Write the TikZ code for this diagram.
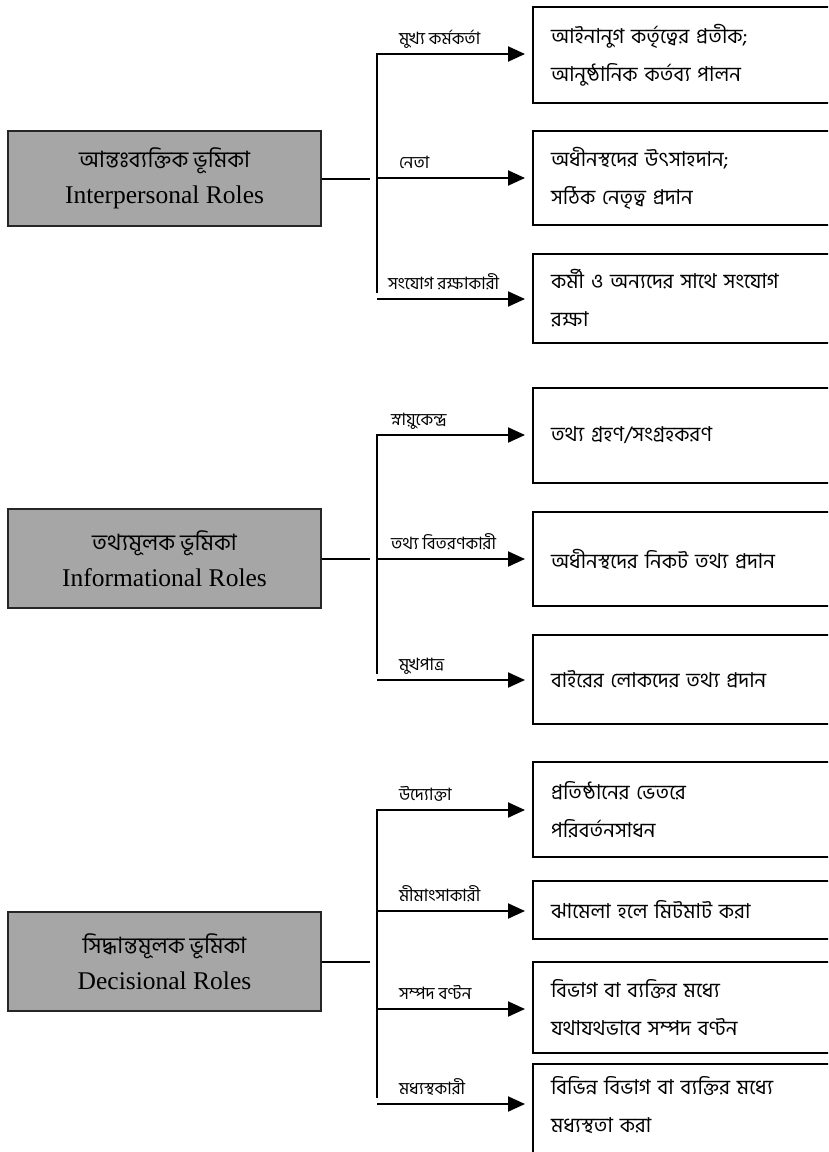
\documentclass[tikz,border=0pt]{standalone}
\usepackage{fontspec}
\setmainfont{Liberation Serif}
\newfontfamily\bnfont[Script=Bengali]{Hind Siliguri}
\usetikzlibrary{arrows.meta}
\tikzset{
		role box/.style   = {draw = black!85, line width = 2pt, fill = black!35, minimum width = 313pt,
		                     align = center, font = \fontsize{25.5}{36}\selectfont},
		duty box/.style   = {draw, line width = 2pt, anchor = north west, text width = 330pt,
		                     inner xsep = 18pt, align = left, font = \bnfont\fontsize{20.5}{38}\selectfont},
		role label/.style = {anchor = base west, inner sep = 0pt, xshift = 21pt, yshift = 10pt,
		                     font = \bnfont\fontsize{17}{18}\selectfont}
	}
\begin{document}
\begin{tikzpicture}[x = 1pt, y = -1pt, >={Triangle[length = 17pt, width = 15pt]}, shorten >= 7pt, line width = 2pt]
				\useasboundingbox (0,0) rectangle (828,1152);
				\clip (0,0) rectangle (828,1152);

				% role boxes
				\node[role box, minimum height = 95pt] (g1) at (164.5,178.5) {{\bnfont\fontsize{22.5}{36}\selectfont আন্তঃব্যক্তিক ভূমিকা}\\Interpersonal Roles};
				\node[role box, minimum height = 99pt] (g2) at (164.5,558.5) {{\bnfont\fontsize{22.5}{36}\selectfont তথ্যমূলক ভূমিকা}\\Informational Roles};
				\node[role box, minimum height = 99pt] (g3) at (164.5,961.5) {{\bnfont\fontsize{22.5}{36}\selectfont সিদ্ধান্তমূলক ভূমিকা}\\Decisional Roles};

				% duty boxes
				\node[duty box, minimum height = 96pt] (b1)  at (532,6)    {আইনানুগ কর্তৃত্বের প্রতীক;\\আনুষ্ঠানিক কর্তব্য পালন};
				\node[duty box, minimum height = 94pt] (b2)  at (532,130)  {অধীনস্থদের উৎসাহদান;\\সঠিক নেতৃত্ব প্রদান};
				\node[duty box, minimum height = 89pt] (b3)  at (532,253)  {কর্মী ও অন্যদের সাথে সংযোগ\\রক্ষা};
				\node[duty box, minimum height = 95pt] (b4)  at (532,387)  {তথ্য গ্রহণ/সংগ্রহকরণ};
				\node[duty box, minimum height = 94pt] (b5)  at (532,511)  {অধীনস্থদের নিকট তথ্য প্রদান};
				\node[duty box, minimum height = 89pt] (b6)  at (532,634)  {বাইরের লোকদের তথ্য প্রদান};
				\node[duty box, minimum height = 95pt] (b7)  at (532,761)  {প্রতিষ্ঠানের ভেতরে\\পরিবর্তনসাধন};
				\node[duty box, minimum height = 58pt] (b8)  at (532,880)  {ঝামেলা হলে মিটমাট করা};
				\node[duty box, minimum height = 91pt] (b9)  at (532,961)  {বিভাগ বা ব্যক্তির মধ্যে\\যথাযথভাবে সম্পদ বণ্টন};
				\node[duty box, text depth = 80pt, inner ysep = 12pt] (b10) at (532,1063) {বিভিন্ন বিভাগ বা ব্যক্তির মধ্যে\\মধ্যস্থতা করা};

				% branch points on the spines
				\coordinate (s1)  at (377,54);
				\coordinate (s2)  at (377,178);
				\coordinate (s3)  at (377,299);
				\coordinate (s4)  at (377,435);
				\coordinate (s5)  at (377,559);
				\coordinate (s6)  at (377,680);
				\coordinate (s7)  at (377,810);
				\coordinate (s8)  at (377,911);
				\coordinate (s9)  at (377,1009);
				\coordinate (s10) at (377,1104);

				\draw[line cap = rect] (s1) -- (s3);
				\draw[line cap = rect] (s4) -- (s6);
				\draw[line cap = rect] (s7) -- (s10);
				\draw (g1.east) -- (g1.east -| s1);
				\draw (g2.east) -- (g2.east -| s4);
				\draw (g3.east) -- (g3.east -| s7);

				\draw[->] (s1)  -- (s1 -| b1.west)   node[pos = 0, role label]                {মুখ্য কর্মকর্তা};
				\draw[->] (s2)  -- (s2 -| b2.west)   node[pos = 0, role label]                {নেতা};
				\draw[->] (s3)  -- (s3 -| b3.west)   node[pos = 0, role label, xshift = -11pt] {সংযোগ রক্ষাকারী};
				\draw[->] (s4)  -- (s4 -| b4.west)   node[pos = 0, role label, xshift = -8pt]  {স্নায়ুকেন্দ্র};
				\draw[->] (s5)  -- (s5 -| b5.west)   node[pos = 0, role label, xshift = -8pt]  {তথ্য বিতরণকারী};
				\draw[->] (s6)  -- (s6 -| b6.west)   node[pos = 0, role label]                {মুখপাত্র};
				\draw[->] (s7)  -- (s7 -| b7.west)   node[pos = 0, role label]                {উদ্যোক্তা};
				\draw[->] (s8)  -- (s8 -| b8.west)   node[pos = 0, role label]                {মীমাংসাকারী};
				\draw[->] (s9)  -- (s9 -| b9.west)   node[pos = 0, role label]                {সম্পদ বণ্টন};
				\draw[->] (s10) -- (s10 -| b10.west) node[pos = 0, role label]                {মধ্যস্থকারী};
			\end{tikzpicture}
\end{document}
